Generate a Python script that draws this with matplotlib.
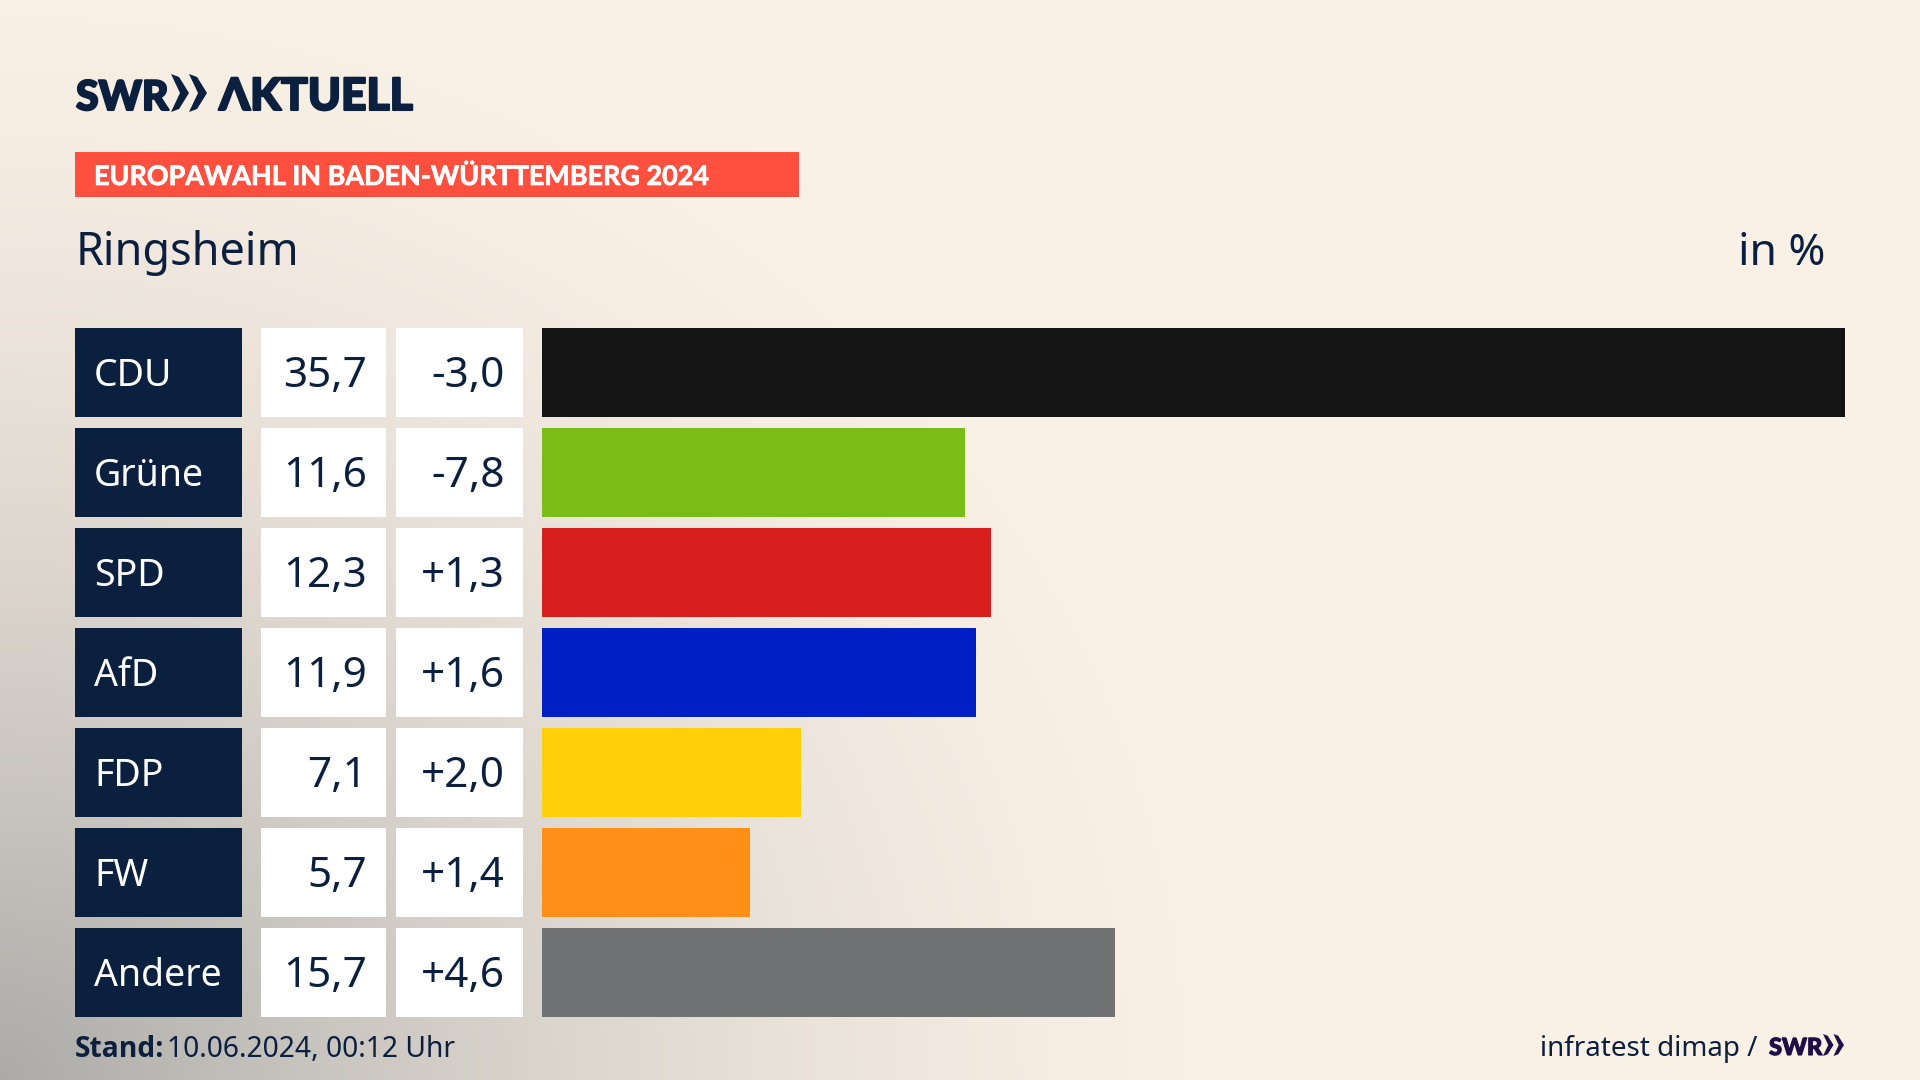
import numpy as np
import matplotlib
matplotlib.use("Agg")
import matplotlib.pyplot as plt
import matplotlib.patheffects as pe
from matplotlib.patches import Polygon

parties = ["CDU", "Grüne", "SPD", "AfD", "FDP", "FW", "Andere"]
shares = [35.7, 11.6, 12.3, 11.9, 7.1, 5.7, 15.7]
changes = [-3.0, -7.8, 1.3, 1.6, 2.0, 1.4, 4.6]
bar_colors = ["#141414", "#7ABD19", "#D7201E", "#0020C6", "#FFCF0A", "#FF8F17", "#717274"]

NAVY = "#0B1F3F"
PURPLE = "#1F0F47"
CREAM = np.array([250, 241, 230]) / 255
GREY = np.array([172, 171, 168]) / 255
LOGO_FONT = ["Lato", "Liberation Sans"]

plt.rcParams["font.family"] = ["Noto Sans", "DejaVu Sans"]


def de_num(v, sign=False):
    s = f"{v:+.1f}" if sign else f"{v:.1f}"
    return s.replace(".", ",")


def chevrons(ax, x0, y0, y1, w, color):
    # the two arrows of the SWR logo
    mid = (y0 + y1) / 2
    for x in (x0, x0 + w):
        pts = [(x, y0), (x + w * 0.45, y0 + (y1 - y0) * 0.08), (x + w, mid),
               (x + w * 0.45, y1 - (y1 - y0) * 0.08), (x, y1), (x + w * 0.5, mid)]
        ax.add_patch(Polygon(pts, closed=True, fc=color, ec="none"))


def heavy(lw, color):
    # Lato bold is lighter than the logo lettering
    return [pe.withStroke(linewidth=lw, foreground=color)]


fig = plt.figure(figsize=(19.2, 10.8), dpi=100)

# everything except the bars sits on a pixel sized axes
ax = fig.add_axes([0, 0, 1, 1])
ax.axis("off")

# background, cream with a grey shadow from the lower left
xx, yy = np.meshgrid(np.linspace(0, 1920, 480), np.linspace(0, 1080, 270))
dist = np.sqrt((xx / 1280) ** 2 + ((1080 - yy) / 1150) ** 2)
t = np.clip(1 - dist, 0, 1) ** 1.6
bg = CREAM + t[..., None] * (GREY - CREAM)
ax.imshow(bg, extent=(0, 1920, 1080, 0), aspect="auto", zorder=0)
ax.set_xlim(0, 1920)
ax.set_ylim(1080, 0)

# header
ax.text(76, 110, "SWR", fontsize=29.5, fontweight=900, color=NAVY, va="baseline",
        family=LOGO_FONT, path_effects=heavy(1.5, NAVY))
chevrons(ax, 171, 74, 112, 18, NAVY)
ax.text(219, 110, "ΛKTUELL", fontsize=32, fontweight=900, color=NAVY, va="baseline",
        family=LOGO_FONT, path_effects=heavy(1.5, NAVY))

ax.barh(174.5, 724, height=45, left=75, color="#FF4F3E", zorder=1)
ax.text(94, 185, "EUROPAWAHL IN BADEN-WÜRTTEMBERG 2024", fontsize=19.4, fontweight="bold",
        color="white", va="baseline", zorder=2, family=LOGO_FONT, path_effects=heavy(0.5, "white"))
ax.text(76, 265, "Ringsheim", fontsize=32.4, color=NAVY, va="baseline")
ax.text(1825, 265, "in %", fontsize=32, color=NAVY, va="baseline", ha="right")

# table cells
for i, party in enumerate(parties):
    top = 328 + 100 * i
    ax.barh(top + 44.25, 167, height=88.5, left=75, color=NAVY, zorder=1)
    ax.barh(top + 44.25, 125, height=88.5, left=261, color="white", zorder=1)
    ax.barh(top + 44.25, 127, height=88.5, left=396, color="white", zorder=1)
    base = top + 58
    ax.text(94, base, party, fontsize=27, color="white", va="baseline", zorder=2)
    ax.text(367, base + 1, de_num(shares[i]), fontsize=30.4, color=NAVY, va="baseline", ha="right", zorder=2)
    ax.text(505, base + 1, de_num(changes[i], sign=True), fontsize=30.4, color=NAVY, va="baseline",
            ha="right", zorder=2)

# footer
ax.text(75, 1057, "Stand:", fontsize=20.3, fontweight="bold", color=NAVY, va="baseline", family="Open Sans")
ax.text(167, 1057, "10.06.2024, 00:12 Uhr", fontsize=20.3, color=NAVY, va="baseline")
ax.text(1757, 1056, "infratest dimap /", fontsize=20, color=NAVY, va="baseline", ha="right")
ax.text(1769, 1055, "SWR", fontsize=17, fontweight=900, color=PURPLE, va="baseline",
        family=LOGO_FONT, path_effects=heavy(0.8, PURPLE))
chevrons(ax, 1823, 1034, 1056, 10.5, PURPLE)

# bars, 0 to 35.7 spans 542..1845 px
bar_ax = fig.add_axes([542 / 1920, 1 - 1022.25 / 1080, 1303 / 1920, 700 / 1080])
bar_ax.patch.set_visible(False)
bar_ax.barh(range(len(parties)), shares, height=0.885, color=bar_colors)
bar_ax.set_xlim(0, 35.7)
bar_ax.set_ylim(6.5, -0.5)
bar_ax.axis("off")

fig.savefig("out.png", dpi=100)
